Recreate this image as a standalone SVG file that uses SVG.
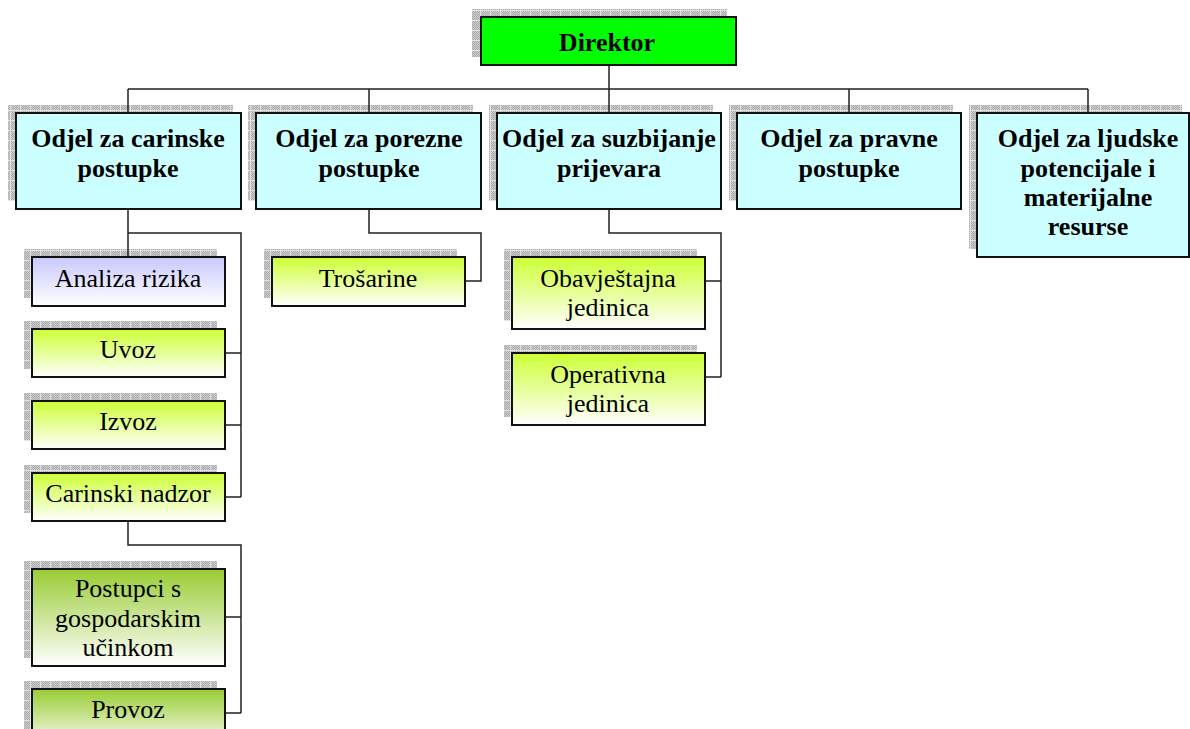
<svg xmlns="http://www.w3.org/2000/svg" width="1190" height="729" viewBox="0 0 1190 729">
<defs>
  <pattern id="dither" width="2" height="2" patternUnits="userSpaceOnUse">
    <rect width="2" height="2" fill="#cfcfcf"/>
    <rect width="1" height="1" fill="#a9a9a9"/>
    <rect x="1" y="1" width="1" height="1" fill="#a9a9a9"/>
  </pattern>
  <pattern id="shadowPat" width="10" height="10" patternUnits="userSpaceOnUse">
    <rect width="10" height="10" fill="url(#dither)"/>
    <rect width="10" height="1" fill="#e4e4e4"/>
    <rect width="1" height="10" fill="#e4e4e4"/>
  </pattern>
  <linearGradient id="gLime" x1="0" y1="0" x2="0" y2="1">
    <stop offset="0" stop-color="#ccff33"/>
    <stop offset="1" stop-color="#ffffff"/>
  </linearGradient>
  <linearGradient id="gGreen" x1="0" y1="0" x2="0" y2="1">
    <stop offset="0" stop-color="#99cc33"/>
    <stop offset="1" stop-color="#ffffff"/>
  </linearGradient>
  <linearGradient id="gLav" x1="0" y1="0" x2="0" y2="1">
    <stop offset="0" stop-color="#c8c8ff"/>
    <stop offset="1" stop-color="#ffffff"/>
  </linearGradient>
</defs>
<style>
  .sh { fill: url(#shadowPat); }
  .box { stroke: #111; stroke-width: 2; }
  .dir { fill: #00ff00; }
  .dept { fill: #ccffff; }
  .lime { fill: url(#gLime); }
  .green { fill: url(#gGreen); }
  .lav { fill: url(#gLav); }
  .conn { fill: none; stroke: #222; stroke-width: 1.5; }
  text { font-family: "Liberation Serif", "Times New Roman", serif; font-size: 26px; fill: #000; text-anchor: middle; }
  .b { font-weight: bold; }
</style>
<rect width="1190" height="729" fill="#ffffff"/>

<g id="shadows">
  <rect class="sh" x="472" y="9" width="255" height="48"/>
  <rect class="sh" x="8" y="105" width="225" height="96"/>
  <rect class="sh" x="248" y="105" width="225" height="96"/>
  <rect class="sh" x="489" y="105" width="224" height="96"/>
  <rect class="sh" x="729" y="105" width="224" height="96"/>
  <rect class="sh" x="969" y="105" width="213" height="144"/>
  <rect class="sh" x="24" y="249" width="193" height="49"/>
  <rect class="sh" x="24" y="321" width="193" height="48"/>
  <rect class="sh" x="24" y="393" width="193" height="48"/>
  <rect class="sh" x="24" y="465" width="193" height="48"/>
  <rect class="sh" x="24" y="561" width="193" height="97"/>
  <rect class="sh" x="24" y="681" width="193" height="48"/>
  <rect class="sh" x="264" y="249" width="193" height="49"/>
  <rect class="sh" x="504" y="249" width="193" height="72"/>
  <rect class="sh" x="504" y="345" width="193" height="72"/>
</g>

<g id="connectors">
  <path class="conn" d="M609 65 V89 M128 89 H1088 M128 89 V113 M369 89 V113 M609 89 V113 M849 89 V113 M1088 89 V113"/>
  <path class="conn" d="M128 209 V257 M128 233 H241 V497 M225 353 H241 M225 425 H241 M225 497 H241"/>
  <path class="conn" d="M128 521 V545 H241 V713 M225 617 H241 M225 713 H241"/>
  <path class="conn" d="M369 209 V233 H481 V281 H465"/>
  <path class="conn" d="M609 209 V233 H721 V377 M705 281 H721 M705 377 H721"/>
</g>

<g id="direktor">
  <rect class="box dir" x="481" y="17" width="255" height="48"/>
  <text class="b" x="607" y="51">Direktor</text>
</g>

<g id="odjel-carinske">
  <rect class="box dept" x="16" y="113" width="225" height="96"/>
  <text class="b" x="128" y="147">Odjel za carinske</text>
  <text class="b" x="128" y="177">postupke</text>
</g>
<g id="odjel-porezne">
  <rect class="box dept" x="256" y="113" width="225" height="96"/>
  <text class="b" x="369" y="147">Odjel za porezne</text>
  <text class="b" x="369" y="177">postupke</text>
</g>
<g id="odjel-suzbijanje">
  <rect class="box dept" x="497" y="113" width="224" height="96"/>
  <text class="b" x="609" y="147">Odjel za suzbijanje</text>
  <text class="b" x="609" y="177">prijevara</text>
</g>
<g id="odjel-pravne">
  <rect class="box dept" x="737" y="113" width="224" height="96"/>
  <text class="b" x="849" y="147">Odjel za pravne</text>
  <text class="b" x="849" y="177">postupke</text>
</g>
<g id="odjel-ljudske">
  <rect class="box dept" x="977" y="113" width="212" height="144"/>
  <text class="b" x="1088" y="147">Odjel za ljudske</text>
  <text class="b" x="1088" y="177">potencijale i</text>
  <text class="b" x="1088" y="206">materijalne</text>
  <text class="b" x="1088" y="235">resurse</text>
</g>

<g id="analiza-rizika">
  <rect class="box lav" x="32" y="257" width="193" height="49"/>
  <text x="128" y="287">Analiza rizika</text>
</g>
<g id="uvoz">
  <rect class="box lime" x="32" y="329" width="193" height="48"/>
  <text x="128" y="358">Uvoz</text>
</g>
<g id="izvoz">
  <rect class="box lime" x="32" y="401" width="193" height="48"/>
  <text x="128" y="430">Izvoz</text>
</g>
<g id="carinski-nadzor">
  <rect class="box lime" x="32" y="473" width="193" height="48"/>
  <text x="128" y="502">Carinski nadzor</text>
</g>
<g id="postupci">
  <rect class="box green" x="32" y="569" width="193" height="97"/>
  <text x="128" y="597">Postupci s</text>
  <text x="128" y="627">gospodarskim</text>
  <text x="128" y="656">učinkom</text>
</g>
<g id="provoz">
  <rect class="box green" x="32" y="689" width="193" height="60"/>
  <text x="128" y="718">Provoz</text>
</g>
<g id="trosarine">
  <rect class="box lime" x="272" y="257" width="193" height="49"/>
  <text x="368" y="287">Trošarine</text>
</g>
<g id="obavjestajna">
  <rect class="box lime" x="512" y="257" width="193" height="72"/>
  <text x="608" y="287">Obavještajna</text>
  <text x="608" y="316">jedinica</text>
</g>
<g id="operativna">
  <rect class="box lime" x="512" y="353" width="193" height="72"/>
  <text x="608" y="383">Operativna</text>
  <text x="608" y="412">jedinica</text>
</g>
</svg>
